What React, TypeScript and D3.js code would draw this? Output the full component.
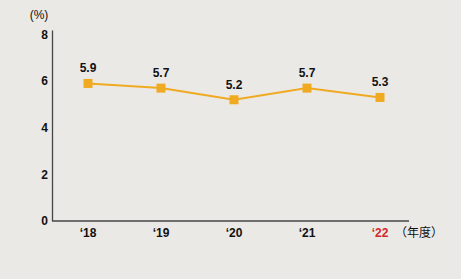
import React from "react";
import * as d3 from "d3";

const years = ["‘18", "‘19", "‘20", "‘21", "‘22"];
const values = [5.9, 5.7, 5.2, 5.7, 5.3];
const yTicks = [0, 2, 4, 6, 8];
const highlight = [false, false, false, false, true];

export default function App() {
  const W = 461, H = 279;
  const x = d3.scalePoint<string>().domain(years).range([88, 380]);
  const y = d3.scaleLinear().domain([0, 8]).range([221, 34.5]);
  const line = d3.line<number>().x((_, i) => x(years[i])!).y(d => y(d));
  const font = "Arial, 'Liberation Sans', sans-serif";
  return (
    <svg width={W} height={H} style={{ position: "absolute", left: 0, top: 0 }} fontFamily={font}>
      <rect width={W} height={H} fill="#ebe9e5" />
      <text x={39} y={19} textAnchor="middle" fontSize={12} fill="#111">(%)</text>
      <line x1={52.5} x2={52.5} y1={30.5} y2={221} stroke="#444" strokeWidth={1.3} />
      <line x1={52} x2={409} y1={221} y2={221} stroke="#444" strokeWidth={1.3} />
      {yTicks.map(t => (
        <text key={t} x={48} y={y(t)} dy="0.36em" textAnchor="end" fontSize={12} fontWeight="bold" fill="#111">{t}</text>
      ))}
      {years.map((yr, i) => (
        <text key={yr} x={x(yr)!} y={237} textAnchor="middle" fontSize={12} fontWeight="bold" fill={highlight[i] ? "#d42a2a" : "#111"}>{yr}</text>
      ))}
      <text x={419} y={237} textAnchor="middle" fontSize={12} fill="#111" fontFamily="'Noto Sans CJK JP', sans-serif">（年度）</text>
      <path d={line(values)!} fill="none" stroke="#f0aa22" strokeWidth={2} />
      {values.map((v, i) => (
        <g key={i}>
          <rect x={x(years[i])! - 4.5} y={y(v) - 4.5} width={9} height={9} fill="#f0aa22" />
          <text x={x(years[i])!} y={y(v) - 11} textAnchor="middle" fontSize={12} fontWeight="bold" fill="#111">{v.toFixed(1)}</text>
        </g>
      ))}
    </svg>
  );
}
